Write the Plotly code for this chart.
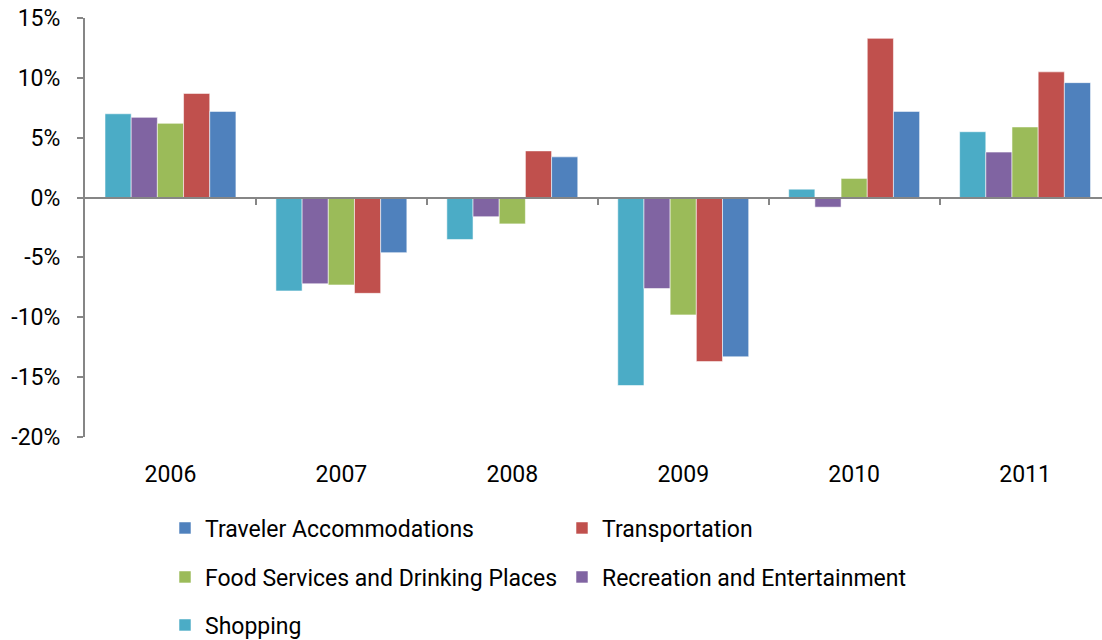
import plotly.graph_objects as go

years = ["2006", "2007", "2008", "2009", "2010", "2011"]
shopping = [7.0, -7.8, -3.5, -15.7, 0.7, 5.5]
recreation = [6.7, -7.2, -1.6, -7.6, -0.8, 3.8]
food = [6.2, -7.3, -2.2, -9.8, 1.6, 5.9]
transportation = [8.7, -8.0, 3.9, -13.7, 13.3, 10.5]
accommodations = [7.2, -4.6, 3.4, -13.3, 7.2, 9.6]

series = [
    ("Shopping", shopping, "#4BACC6", "legend3"),
    ("Recreation and Entertainment", recreation, "#8064A2", "legend2"),
    ("Food Services and Drinking Places", food, "#9BBB59", "legend2"),
    ("Transportation", transportation, "#C0504D", "legend"),
    ("Traveler Accommodations", accommodations, "#4F81BD", "legend"),
]

FONT = "Roboto, Lato, sans-serif"
AXIS = "#868686"
FS = 23

fig = go.Figure()
for name, vals, color, lg in series:
    fig.add_trace(go.Bar(
        x=years, y=vals, name=name,
        marker=dict(color=color, line=dict(color="rgba(255,255,255,0.55)", width=1)),
        legend=lg,
    ))

# invisible helper trace for the zero-line axis with boundary ticks
fig.add_trace(go.Scatter(x=[None], y=[None], xaxis="x2", showlegend=False,
                         hoverinfo="skip", mode="markers"))

leg_common = dict(orientation="h", xref="container", yref="container",
                  xanchor="left", yanchor="middle", entrywidth=352,
                  entrywidthmode="pixels", traceorder="reversed",
                  font=dict(family=FONT, size=FS, color="#000000"),
                  bgcolor="rgba(0,0,0,0)", itemclick=False)

fig.update_layout(
    width=1102, height=640,
    margin=dict(l=85, r=0, t=18, b=203),
    paper_bgcolor="white", plot_bgcolor="white",
    barmode="group", bargap=0.234, bargroupgap=0,
    font=dict(family=FONT, size=FS, color="#000000"),
    xaxis=dict(
        type="category", range=[-0.5, 5.45],
        showline=False, showgrid=False, zeroline=False,
        ticks="outside", ticklen=16, tickcolor="rgba(0,0,0,0)",
        tickfont=dict(family=FONT, size=FS, color="#000000"),
    ),
    xaxis2=dict(
        overlaying="x", anchor="free", position=20 / 35,
        range=[-0.5, 5.45], showline=True, linecolor=AXIS, linewidth=2,
        ticks="outside", ticklen=6, tickwidth=2, tickcolor=AXIS,
        tickvals=[0.5, 1.5, 2.5, 3.5, 4.5], showticklabels=False,
        showgrid=False, zeroline=False,
    ),
    yaxis=dict(
        range=[-20, 15], tickvals=[-20, -15, -10, -5, 0, 5, 10, 15],
        ticktext=["-20%", "-15%", "-10%", "-5%", "0%", "5%", "10%", "15%"],
        showline=True, linecolor=AXIS, linewidth=2,
        ticks="outside", ticklen=6, tickwidth=2, tickcolor=AXIS,
        showgrid=False, zeroline=False, ticklabelstandoff=12,
        tickfont=dict(family=FONT, size=FS, color="#000000"),
    ),
    legend=dict(x=165 / 1102, y=1 - 528 / 640, **leg_common),
    legend2=dict(x=165 / 1102, y=1 - 577 / 640, **leg_common),
    legend3=dict(x=165 / 1102, y=1 - 625 / 640, **leg_common),
)

fig.write_html(
    "out.html",
    config={"displayModeBar": False},
    post_script="document.body.style.margin='0';document.body.style.overflow='hidden';",
)
